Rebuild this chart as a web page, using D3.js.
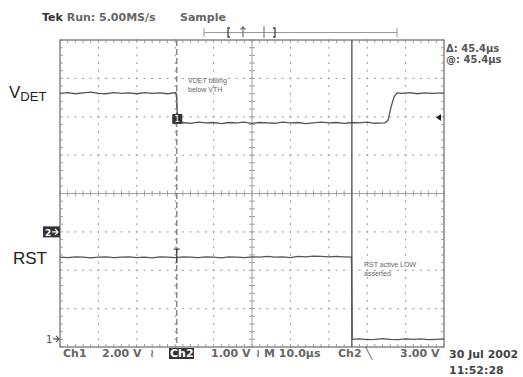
<!DOCTYPE html>
<html>
<head>
<meta charset="utf-8">
<script src="https://cdn.jsdelivr.net/npm/d3@7"></script>
<style>
  body { margin: 0; background: #fff; }
  svg { display: block; }
  .scope { font-family: "DejaVu Sans", sans-serif; font-size: 11px; fill: #555; }
  .note { font-family: "Liberation Sans", Arial, sans-serif; font-size: 7px; fill: #666; }
  .lbl { font-family: "Liberation Sans", Arial, sans-serif; fill: #222; }
</style>
</head>
<body>
<div id="chart"></div>
<script>
// scope settings: 10 divisions of 10 µs, 8 vertical divisions
var timeDomain = [0, 100];
var divDomain = [-4, 4];

// VDET trace (time in µs, position in divisions from centre)
var vdetT = [0, 2, 4, 6, 8, 10, 12, 14, 16, 18, 20, 22, 24, 26, 28, 30.2, 30.4, 30.6,
  32, 34, 36, 38, 40, 42, 44, 46, 48, 50, 52, 54, 56, 58, 60, 62, 64, 66, 68, 70,
  72, 74, 76, 78, 80, 82, 84.6, 85.4, 86.2, 87, 87.8, 89, 91, 93, 95, 97, 100];
var vdetV = [2.61, 2.63, 2.60, 2.62, 2.64, 2.61, 2.60, 2.63, 2.61, 2.62, 2.60, 2.63, 2.61, 2.62, 2.60, 2.63, 2.45, 1.84,
  1.85, 1.83, 1.86, 1.84, 1.85, 1.82, 1.85, 1.84, 1.86, 1.83, 1.85, 1.84, 1.83, 1.86, 1.84, 1.85, 1.82, 1.84, 1.86, 1.84,
  1.85, 1.83, 1.85, 1.84, 1.86, 1.83, 1.84, 1.90, 2.25, 2.52, 2.62, 2.61, 2.63, 2.60, 2.62, 2.61, 2.62];

// RST trace
var rstT = [0, 2, 4, 6, 8, 10, 12, 14, 16, 18, 20, 22, 24, 26, 28, 30, 32, 34, 36, 38,
  40, 42, 44, 46, 48, 50, 52, 54, 56, 58, 60, 62, 64, 66, 68, 70, 72, 74, 75.9, 76.1,
  78, 80, 82, 84, 86, 88, 90, 92, 94, 96, 98, 100];
var rstV = [-1.66, -1.67, -1.65, -1.66, -1.68, -1.66, -1.65, -1.67, -1.66, -1.65, -1.67, -1.66, -1.68, -1.65, -1.66, -1.67, -1.65, -1.66, -1.67, -1.65,
  -1.66, -1.68, -1.65, -1.66, -1.67, -1.65, -1.66, -1.64, -1.66, -1.65, -1.67, -1.64, -1.65, -1.63, -1.64, -1.65, -1.64, -1.65, -1.66, -3.80,
  -3.79, -3.81, -3.80, -3.78, -3.80, -3.81, -3.79, -3.80, -3.79, -3.81, -3.80, -3.79];

// cursors / markers (µs, divisions)
var triggerTime = 30.4;
var cursorTime = 76.0;
var ch1Ground = -3.79;
var ch2Ground = -1.0;
var refArrow = 1.98;

// texts
var headerText = ["Tek", " Run: 5.00MS/s", "Sample"];
var deltaTexts = ["\u0394: 45.4\u00b5s", "@: 45.4\u00b5s"];
var statusTexts = [
  { t: "Ch1", x: 63 }, { t: "2.00 V", x: 102 }, { t: "\u2240", x: 150 },
  { t: "1.00 V", x: 211 }, { t: "\u2240 M 10.0\u00b5s", x: 256 },
  { t: "Ch2 \u2572", x: 338 }, { t: "3.00 V", x: 400 }
];
var dateTexts = ["30 Jul 2002", "11:52:28"];

var W = 523, H = 377;
var plot = { left: 60, top: 40, right: 444, bottom: 347 };

var svg = d3.select("#chart").append("svg").attr("width", W).attr("height", H);

var x = d3.scaleLinear().domain(timeDomain).range([plot.left, plot.right]);
var y = d3.scaleLinear().domain(divDomain).range([plot.bottom, plot.top]);

var gridCol = "#a0a0a0";

// dotted grid
var g = svg.append("g");
var minorX = d3.range(0, 100.01, 2);
var minorY = d3.range(-4, 4.01, 0.2);
d3.range(10, 100, 10).forEach(function (t) {
  if (t === 50) return;
  minorY.forEach(function (v) {
    g.append("rect").attr("x", x(t) - 0.5).attr("y", y(v) - 1).attr("width", 1.1).attr("height", 2).attr("fill", gridCol);
  });
});
d3.range(-3, 4, 1).forEach(function (v) {
  if (v === 0) return;
  minorX.forEach(function (t) {
    g.append("rect").attr("x", x(t) - 1).attr("y", y(v) - 0.5).attr("width", 2).attr("height", 1.1).attr("fill", gridCol);
  });
});

// centre crosshair with ticks
g.append("line").attr("x1", x(50)).attr("x2", x(50)).attr("y1", plot.top).attr("y2", plot.bottom)
  .attr("stroke", gridCol).attr("stroke-width", 1);
g.append("line").attr("x1", plot.left).attr("x2", plot.right).attr("y1", y(0)).attr("y2", y(0))
  .attr("stroke", gridCol).attr("stroke-width", 1);
minorX.forEach(function (t) {
  g.append("line").attr("x1", x(t)).attr("x2", x(t)).attr("y1", y(0) - 3).attr("y2", y(0) + 3).attr("stroke", gridCol);
  g.append("line").attr("x1", x(t)).attr("x2", x(t)).attr("y1", plot.top).attr("y2", plot.top + 3).attr("stroke", gridCol);
  g.append("line").attr("x1", x(t)).attr("x2", x(t)).attr("y1", plot.bottom - 3).attr("y2", plot.bottom).attr("stroke", gridCol);
});
minorY.forEach(function (v) {
  g.append("line").attr("x1", x(50) - 3).attr("x2", x(50) + 3).attr("y1", y(v)).attr("y2", y(v)).attr("stroke", gridCol);
  g.append("line").attr("x1", plot.left).attr("x2", plot.left + 3).attr("y1", y(v)).attr("y2", y(v)).attr("stroke", gridCol);
  g.append("line").attr("x1", plot.right - 3).attr("x2", plot.right).attr("y1", y(v)).attr("y2", y(v)).attr("stroke", gridCol);
});

// border
svg.append("rect").attr("x", plot.left).attr("y", plot.top)
  .attr("width", plot.right - plot.left).attr("height", plot.bottom - plot.top)
  .attr("fill", "none").attr("stroke", "#888").attr("stroke-width", 1.5);

// trigger (dashed) and cursor (solid) lines
svg.append("line").attr("x1", x(triggerTime)).attr("x2", x(triggerTime))
  .attr("y1", plot.top).attr("y2", plot.bottom)
  .attr("stroke", "#888").attr("stroke-width", 1.5).attr("stroke-dasharray", "6,3");
svg.append("line").attr("x1", x(cursorTime)).attr("x2", x(cursorTime))
  .attr("y1", plot.top).attr("y2", plot.bottom)
  .attr("stroke", "#666").attr("stroke-width", 1.5);

// traces
var line = d3.line()
  .x(function (d) { return x(d[0]); })
  .y(function (d) { return y(d[1]); });

svg.append("path").datum(d3.zip(vdetT, vdetV)).attr("d", line)
  .attr("fill", "none").attr("stroke", "#555").attr("stroke-width", 1.3);
svg.append("path").datum(d3.zip(rstT, rstV)).attr("d", line)
  .attr("fill", "none").attr("stroke", "#555").attr("stroke-width", 1.3);

// channel 1 box marker on VDET
svg.append("rect").attr("x", x(triggerTime) - 4.5).attr("y", y(1.84) - 9)
  .attr("width", 10).attr("height", 10).attr("fill", "#333");
svg.append("text").attr("class", "scope").attr("x", x(triggerTime) + 0.5).attr("y", y(1.84) - 0.5)
  .attr("text-anchor", "middle").style("font-size", "9px").style("fill", "#fff").text("1");

// trigger T marker on RST
svg.append("path")
  .attr("d", "M" + (x(triggerTime) - 3) + "," + (y(rstV[0]) - 8) + "h6M" + x(triggerTime) + "," + (y(rstV[0]) - 8) + "v14")
  .attr("stroke", "#444").attr("stroke-width", 1.3).attr("fill", "none");

// right reference arrow
svg.append("path")
  .attr("d", "M" + (plot.right - 8) + "," + y(refArrow) + "l5,-3.5v7z")
  .attr("fill", "#222");

// ground markers
svg.append("rect").attr("x", 43).attr("y", y(ch2Ground) - 5.5).attr("width", 17).attr("height", 11).attr("fill", "#333");
svg.append("text").attr("class", "scope").attr("x", 45).attr("y", y(ch2Ground) + 4)
  .style("font-size", "9px").style("fill", "#fff").style("font-weight", "bold").text("2");
svg.append("path").attr("d", "M52," + y(ch2Ground) + "h6M55," + (y(ch2Ground) - 3) + "l3,3l-3,3")
  .attr("stroke", "#fff").attr("stroke-width", 1.2).attr("fill", "none");
svg.append("text").attr("class", "scope").attr("x", 46).attr("y", y(ch1Ground) + 4)
  .style("font-size", "10px").text("1");
svg.append("path").attr("d", "M53," + y(ch1Ground) + "h6M56," + (y(ch1Ground) - 3) + "l3,3l-3,3")
  .attr("stroke", "#555").attr("stroke-width", 1.2).attr("fill", "none");

// header
var head = svg.append("text").attr("class", "scope").attr("x", 42).attr("y", 21);
head.append("tspan").style("font-weight", "bold").style("fill", "#333").text(headerText[0]);
head.append("tspan").style("font-weight", "bold").style("fill", "#666").text(headerText[1]);
svg.append("text").attr("class", "scope").attr("x", 180).attr("y", 21)
  .style("font-weight", "bold").style("fill", "#666").text(headerText[2]);

// record bar
var rb = svg.append("g").attr("stroke", "#999").attr("fill", "none").attr("stroke-width", 1);
rb.append("line").attr("x1", 204).attr("x2", 397).attr("y1", 32.5).attr("y2", 32.5);
rb.append("line").attr("x1", 204).attr("x2", 204).attr("y1", 28).attr("y2", 37);
rb.append("line").attr("x1", 397).attr("x2", 397).attr("y1", 28).attr("y2", 37);
rb.append("line").attr("x1", 264).attr("x2", 264).attr("y1", 26).attr("y2", 38).attr("stroke-width", 1.5);
var bk = svg.append("g").attr("stroke", "#444").attr("fill", "none").attr("stroke-width", 1.3);
bk.append("path").attr("d", "M230,28h-2v9h2");
bk.append("path").attr("d", "M273,28h2v9h-2");
bk.append("path").attr("d", "M243,27v10M240.5,29.5l2.5,-2.5l2.5,2.5").attr("stroke", "#777");

// delta readout
deltaTexts.forEach(function (t, i) {
  svg.append("text").attr("class", "scope").attr("x", 446).attr("y", 52 + i * 11)
    .style("font-size", "10px").style("font-weight", "bold").style("fill", "#555").text(t);
});

// status line
statusTexts.forEach(function (s) {
  svg.append("text").attr("class", "scope").attr("x", s.x).attr("y", 357)
    .style("font-weight", "bold").style("fill", "#666").text(s.t);
});
svg.append("rect").attr("x", 169).attr("y", 348).attr("width", 25).attr("height", 11).attr("fill", "#333");
svg.append("text").attr("class", "scope").attr("x", 170).attr("y", 357)
  .style("font-weight", "bold").style("fill", "#fff").text("Ch2");

dateTexts.forEach(function (t, i) {
  svg.append("text").attr("class", "scope").attr("x", 449).attr("y", 358 + i * 16)
    .style("font-weight", "bold").style("fill", "#444").text(t);
});

// annotations
["VDET falling", "below VTH"].forEach(function (t, i) {
  svg.append("text").attr("class", "note").attr("x", 188).attr("y", 83 + i * 8.5).text(t);
});
["RST active LOW", "asserted"].forEach(function (t, i) {
  svg.append("text").attr("class", "note").attr("x", 364).attr("y", 267 + i * 9).text(t);
});

// signal labels
var vl = svg.append("text").attr("class", "lbl").attr("x", 9).attr("y", 98).style("font-size", "17px");
vl.append("tspan").text("V");
vl.append("tspan").attr("dy", 3).style("font-size", "13px").text("DET");
svg.append("text").attr("class", "lbl").attr("x", 13).attr("y", 264).style("font-size", "17px").text("RST");
</script>
</body>
</html>
